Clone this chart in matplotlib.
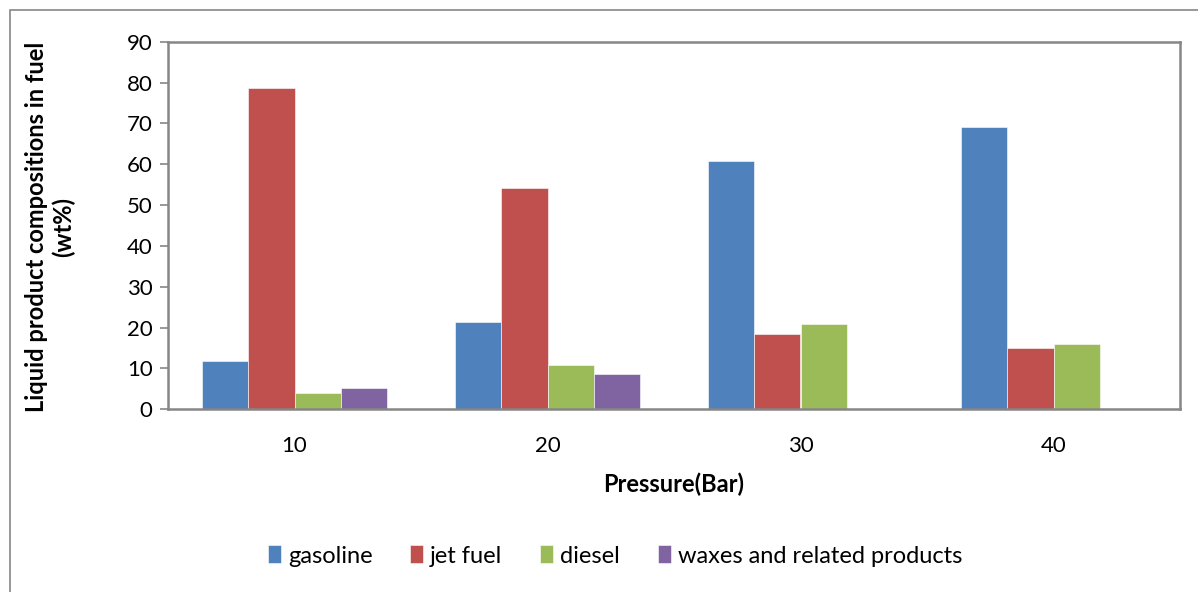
import numpy as np
import matplotlib.pyplot as plt
from matplotlib.patches import Rectangle

plt.rcParams['font.family'] = ['Lato', 'DejaVu Sans']

# --- data ---
pressure = ['10', '20', '30', '40']
gasoline = [11.8, 21.3, 60.7, 69.0]
jet_fuel = [78.6, 54.1, 18.4, 14.9]
diesel = [3.9, 10.8, 20.8, 15.9]
waxes = [5.2, 8.6, 0, 0]

series = [gasoline, jet_fuel, diesel, waxes]
labels = ['gasoline', 'jet fuel', 'diesel', 'waxes and related products']
colors = ['#4F81BD', '#C0504D', '#9BBB59', '#8064A2']

fig = plt.figure(figsize=(11.98, 5.92), dpi=100)
ax = fig.add_axes([168/1198, 1 - 409.3/592, (1180 - 168)/1198, (409.3 - 41.7)/592])

x = np.arange(len(pressure))
w = 0.182
for i, (vals, lab, col) in enumerate(zip(series, labels, colors)):
    ax.bar(x + (i - 1.5) * w, vals, w, label=lab, color=col, edgecolor='white', linewidth=0.4)

ax.set_xlim(-0.5, len(pressure) - 0.5)
ax.set_ylim(0, 90)
ax.set_yticks(range(0, 91, 10))
ax.set_xticks(x)
ax.set_xticklabels(pressure)
ax.tick_params(axis='x', length=0, pad=19, labelsize=16)
ax.tick_params(axis='y', length=6, width=1.2, color='#868686', pad=5, labelsize=16)

for s in ax.spines.values():
    s.set_color('#868686')
    s.set_linewidth(1.8)

ax.set_xlabel('Pressure(Bar)', fontsize=17, fontweight='bold', labelpad=12)
fig.text(50/1198, 1 - 227/592, 'Liquid product compositions in fuel\n(wt%)',
         rotation=90, ha='center', va='center', fontsize=17, fontweight='bold',
         linespacing=1.2)

fig.legend(loc='center', bbox_to_anchor=(615/1198, 1 - 556/592), ncol=4, frameon=False,
           fontsize=17, handlelength=0.55, handleheight=0.8, handletextpad=0.3,
           columnspacing=1.6)

# outer chart frame
fig.add_artist(Rectangle((10/1198, -0.05), 1.2, 1.05 - 10/592, fill=False,
                         edgecolor='#868686', linewidth=1.2, transform=fig.transFigure,
                         clip_on=False))

plt.savefig('out.png', dpi=100)
